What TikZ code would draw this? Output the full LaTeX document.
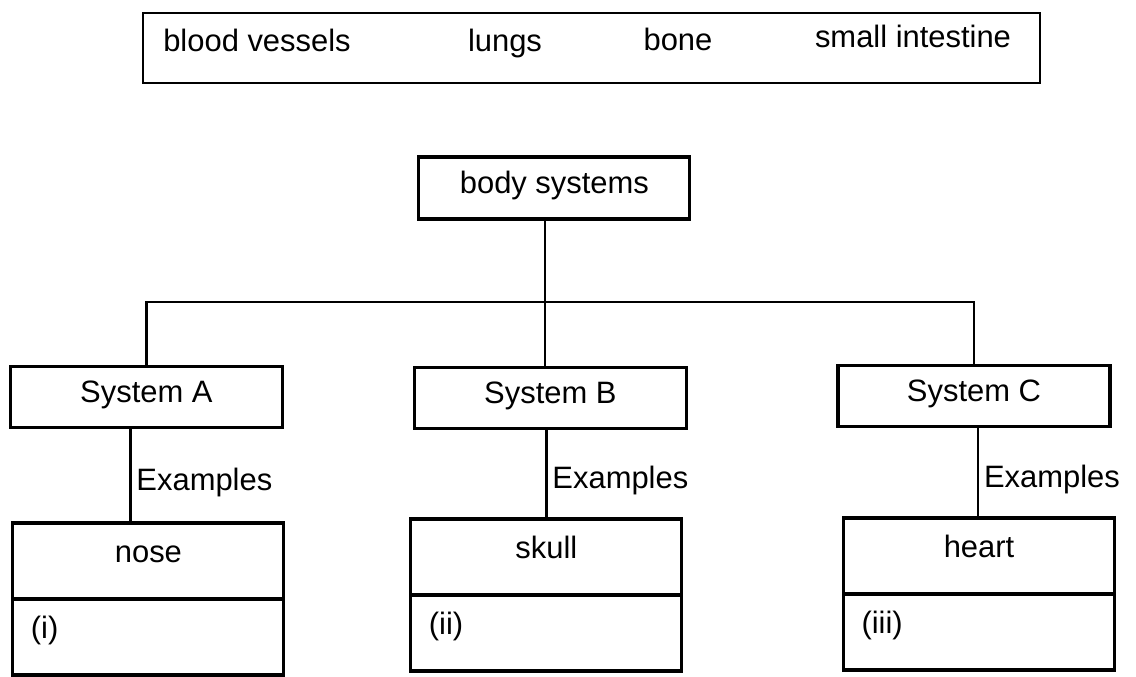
\documentclass[tikz,border=0pt]{standalone}
\usepackage{fontspec}
\setmainfont{Liberation Sans}
\usetikzlibrary{positioning}

\begin{document}
\begin{tikzpicture}[node distance=0pt,
            every node/.style={font=\fontsize{22}{26}\selectfont},
            sys node/.style={rectangle,draw=black,line width=2.2pt,minimum width=6.8cm,minimum height=1.525cm,text height=0.72em,text depth=0pt},
            ex node/.style={rectangle,draw=black,line width=2.2pt,outer sep=0pt,minimum width=6.775cm,minimum height=1.9cm,text height=0.72em,text depth=0.5em},
            ans node/.style={ex node,text width=5.875cm,inner xsep=0.45cm,align=left},
            tree line/.style={line width=1.6pt},
            ex line/.style={line width=2pt},
            ex label/.style={midway,right,yshift=-0.15cm}]

        \useasboundingbox (0,0) rectangle (28.4,-16.925);

        % word bank
        \node[draw=black, line width=1.3pt, minimum width=22.425cm, minimum height=1.75cm] (bank) at (14.79,-1.2) {};
        \node[anchor=base] (vessels) at (6.425,-1.3) {blood vessels};
        \node[anchor=base] (lungs) at (12.625,-1.3) {lungs};
        \node[anchor=base] (bone) at (16.95,-1.275) {bone};
        \node[anchor=base] (intestine) at (22.825,-1.2) {small intestine};

        % systems
        \node[sys node, minimum width=6.775cm, minimum height=1.55cm] (body) at (13.86,-4.7) {body systems};
        \node[sys node] (sysA) at (3.66,-9.925) {System A};
        \node[sys node] (sysB) at (13.76,-9.96) {System B};
        \node[sys node] (sysC) at (24.35,-9.9) {System C};

        % examples
        \node[ex node] (nose) at (3.71,-14.025) {nose};
        \node[ans node, below=of nose] (ansA) {(i)};
        \node[ex node] (skull) at (13.66,-13.925) {skull};
        \node[ans node, below=of skull] (ansB) {(ii)};
        \node[ex node] (heart) at (24.475,-13.9) {heart};
        \node[ans node, below=of heart] (ansC) {(iii)};

        \coordinate (split) at (13.625,-7.55);
        \draw[tree line] (body.south -| split) -- (split);
        \draw[tree line] (sysA.north) |- (split) -| (sysC.north);
        \draw[tree line] (split) -- (split |- sysB.north);

        \draw[ex line] ([xshift=-0.4cm]sysA.south) -- ([xshift=-0.4cm]sysA.south |- nose.north) node[ex label] {Examples};
        \draw[ex line] ([xshift=-0.1cm]sysB.south) -- ([xshift=-0.1cm]sysB.south |- skull.north) node[ex label] {Examples};
        \draw[ex line] ([xshift=0.1cm]sysC.south) -- ([xshift=0.1cm]sysC.south |- heart.north) node[ex label] {Examples};

    \end{tikzpicture}
\end{document}
